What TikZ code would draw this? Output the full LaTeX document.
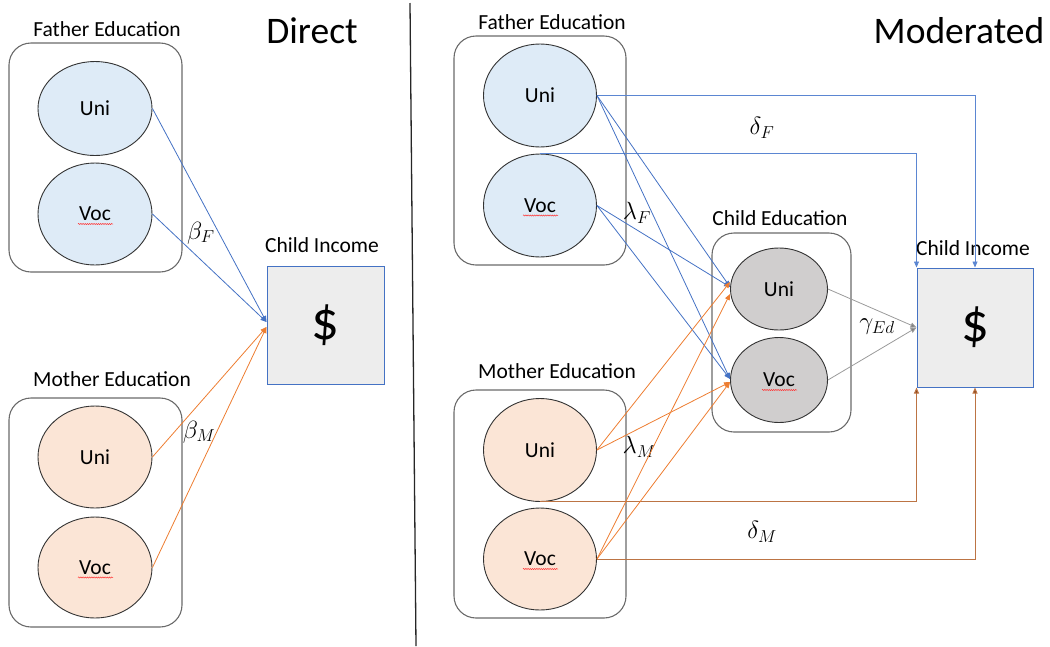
\documentclass[tikz,border=0pt]{standalone}
\usepackage{fontspec}
\setmainfont{Carlito}
\usetikzlibrary{arrows.meta,shapes.geometric,decorations.pathmorphing}
\definecolor{fblue}{HTML}{DEEBF7}
\definecolor{morange}{HTML}{FBE5D6}
\definecolor{cgray}{HTML}{D0CECE}
\definecolor{incfill}{HTML}{EDEDED}
\definecolor{lblue}{HTML}{4472C4}
\definecolor{dblue}{HTML}{5B86D2}
\definecolor{lorange}{HTML}{ED7D31}
\definecolor{lbrown}{HTML}{BC7444}
\definecolor{tbrown}{HTML}{8A4518}
\definecolor{lgray}{HTML}{9A9A9A}
\definecolor{boxgray}{HTML}{6A6A6A}
\tikzset{
  grpbox/.style={draw=boxgray, line width=1.1pt, rounded corners=22pt, minimum width=173pt, minimum height=229pt, inner sep=0pt},
  ovalF/.style={ellipse, draw=black!80, line width=0.9pt, fill=fblue, inner sep=0pt, font=\fontsize{21.5}{24}\selectfont},
  ovalM/.style={ellipse, draw=black!80, line width=0.9pt, fill=morange, inner sep=0pt, font=\fontsize{21.5}{24}\selectfont},
  ovalC/.style={ellipse, draw=black!80, line width=0.9pt, fill=cgray, inner sep=0pt, font=\fontsize{21.5}{24}\selectfont},
  incbox/.style={draw=lblue, line width=1pt, fill=incfill, inner sep=0pt, font=\fontsize{55}{58}\selectfont},
  lbl/.style={inner sep=0pt, font=\fontsize{21.5}{24}\selectfont},
  big/.style={inner sep=0pt, font=\fontsize{37.5}{40}\selectfont},
  gk/.style={inner sep=0pt, font=\fontsize{23}{26}\selectfont},
  tip/.style={-{Triangle[length=6pt,width=5pt]}},
  barrow/.style={tip, draw=lblue, line width=0.8pt},
  darrow/.style={tip, draw=dblue, line width=0.8pt},
  oarrow/.style={tip, draw=lorange, line width=0.8pt},
  brarrow/.style={-{Triangle[length=6pt,width=5pt,fill=tbrown]}, draw=lbrown, line width=1pt},
  garrow/.style={-{Triangle[length=6pt,width=5pt,fill=gray]}, draw=lgray, line width=0.8pt},
  squig/.style={draw=red!80, line width=0.5pt, decorate, decoration={snake, segment length=2.2pt, amplitude=0.6pt}}
}
\begin{document}
\begin{tikzpicture}[x=1pt, y=-1pt]
\useasboundingbox (0,0) rectangle (1050,646);
% divider
\coordinate (dtop) at (410,3);
\coordinate (dbot) at (416,646);
\draw[line width=1.3pt, black!85] (dtop) -- (dbot);

% ---------- Direct ----------
\node[lbl] (tFE) at (107,29) {Father Education};
\node[big] (tDir) at (312,31) {Direct};
\node[grpbox] (fbox) at (95.5,157.5) {};
\node[ovalF, minimum width=114pt, minimum height=94pt] (fu) at (95,108.5) {Uni};
\node[ovalF, minimum width=114pt, minimum height=102pt] (fv) at (95,214) {Voc};
\node[lbl] (tME) at (112,379) {Mother Education};
\node[grpbox] (mbox) at (95.5,512.5) {};
\node[ovalM, minimum width=114pt, minimum height=102pt] (mu) at (95,457) {Uni};
\node[ovalM, minimum width=114pt, minimum height=101pt] (mv) at (95,567.5) {Voc};
\node[lbl] (tCI) at (322,245) {Child Income};
\node[incbox, minimum width=117pt, minimum height=118pt] (inc) at (325.5,325) {\$};
\node[gk] (bF) at (201,233) {$\beta_F$};
\node[gk] (bM) at (199,432) {$\beta_M$};
\draw[barrow] (fu.east) -- ([yshift=3pt]inc.west);
\draw[barrow] (fv.east) -- ([yshift=3pt]inc.west);
\draw[oarrow] (mu.east) -- ([yshift=-2pt]inc.west);
\draw[oarrow] (mv.east) -- ([yshift=-2pt]inc.west);

% ---------- Moderated ----------
\node[lbl] (tFE2) at (552,22) {Father Education};
\node[big] (tMod) at (959,31) {Moderated};
\node[grpbox, minimum width=172pt] (fbox2) at (540,150.5) {};
\node[ovalF, minimum width=113pt, minimum height=103pt] (FU) at (540,95.5) {Uni};
\node[ovalF, minimum width=113pt, minimum height=103pt] (FV) at (540,205.5) {Voc};
\node[lbl] (tME2) at (557,371) {Mother Education};
\node[grpbox, minimum width=172pt, minimum height=228pt] (mbox2) at (540,504) {};
\node[ovalM, minimum width=113pt, minimum height=103pt] (MU) at (540,450) {Uni};
\node[ovalM, minimum width=113pt, minimum height=102pt] (MV) at (540,559) {Voc};
\node[lbl] (tCE) at (780,218) {Child Education};
\node[grpbox, minimum width=139pt, minimum height=199pt] (cbox) at (781.5,332.5) {};
\node[ovalC, minimum width=97pt, minimum height=82pt] (CU) at (779,289) {Uni};
\node[ovalC, minimum width=97pt, minimum height=85pt] (CV) at (779,380) {Voc};
\node[incbox, minimum width=116pt, minimum height=119pt] (inc2) at (975,327.5) {\$};
\node[lbl] (tCI2) at (973,248) {Child Income};
\node[gk] (dF) at (762,128) {$\delta_F$};
\node[gk] (dM) at (762,532) {$\delta_M$};
\node[gk] (lF) at (637,213) {$\lambda_F$};
\node[gk] (lM) at (639,447) {$\lambda_M$};
\node[gk] (gE) at (877,327) {$\gamma_{Ed}$};

% spell-check squiggles
\foreach \n in {fv,mv,FV,MV,CV}{
  \draw[squig] ([xshift=-17pt,yshift=-10pt]\n.center) -- ([xshift=18pt,yshift=-10pt]\n.center);
}

% direct delta paths
\draw[darrow] (FU.east) -| (inc2.north);
\draw[darrow] (FV.north) -| (inc2.north west);
\draw[brarrow] (MU.south) -| (inc2.south west);
\draw[brarrow] (MV.east) -| (inc2.south);

% lambda F
\draw[barrow] (FU.east) -- ([yshift=2pt]CU.west);
\draw[barrow] (FU.east) -- ([yshift=1pt]CV.west);
\draw[barrow] (FV.east) -- ([yshift=2pt]CU.west);
\draw[barrow] (FV.east) -- ([yshift=1pt]CV.west);
% lambda M
\draw[oarrow] (MU.east) -- ([yshift=7pt]CU.west);
\draw[oarrow] (MU.east) -- ([yshift=-2pt]CV.west);
\draw[oarrow] (MV.east) -- ([yshift=-5pt]CU.west);
\draw[oarrow] (MV.east) -- ([yshift=-2pt]CV.west);
% gamma
\draw[garrow] (CU.east) -- (inc2.west);
\draw[garrow] (CV.east) -- (inc2.west);
\end{tikzpicture}
\end{document}
